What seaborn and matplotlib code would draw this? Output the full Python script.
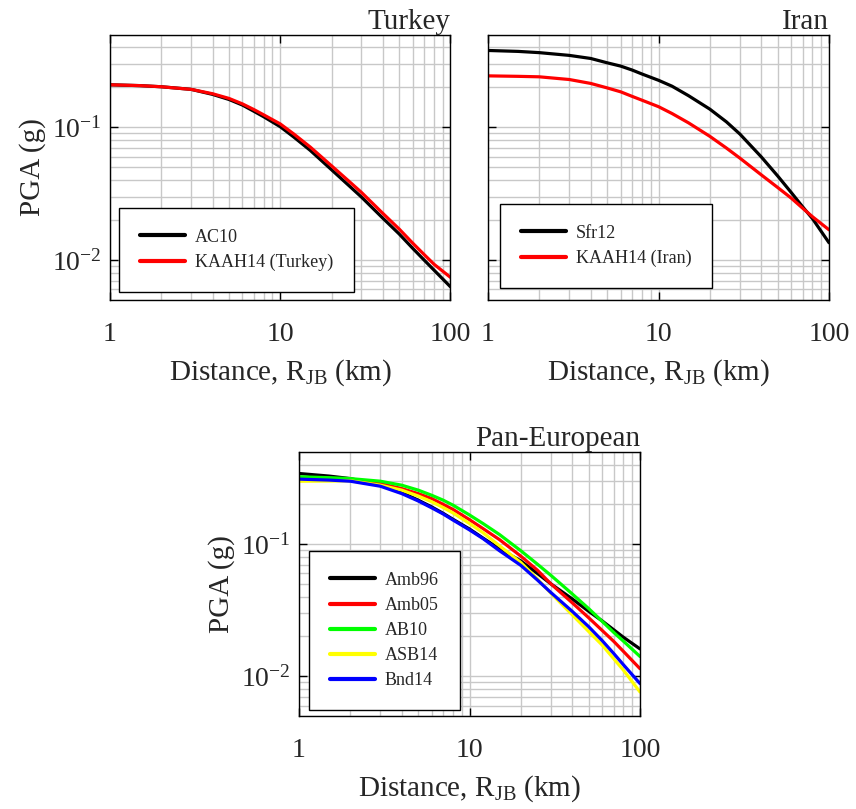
import numpy as np
import pandas as pd
import matplotlib
matplotlib.use("Agg")
import matplotlib.pyplot as plt
import seaborn as sns
from matplotlib.ticker import LogLocator, NullFormatter, FixedLocator, FixedFormatter

# ---------------- data ----------------
distance = [1, 1.5, 2, 3, 4, 5, 6, 7, 8, 10, 12, 15, 20, 25, 30, 40, 50, 60, 70, 80, 100]

# Turkey
ac10 = [0.209, 0.206, 0.202, 0.193, 0.177, 0.162, 0.147, 0.132, 0.120, 0.101, 0.0845,
        0.067, 0.0479, 0.0369, 0.0298, 0.0207, 0.0157, 0.01225, 0.0100, 0.0084, 0.00628]
kaah14_turkey = [0.209, 0.206, 0.202, 0.193, 0.179, 0.165, 0.150, 0.136, 0.124, 0.106, 0.0891,
                 0.071, 0.0513, 0.0398, 0.0323, 0.0225, 0.0171, 0.0134, 0.0110, 0.0093, 0.0074]

# Iran
sfr12 = [0.379, 0.373, 0.365, 0.348, 0.330, 0.306, 0.289, 0.270, 0.252, 0.226, 0.204,
         0.173, 0.137, 0.110, 0.089, 0.060, 0.043, 0.0323, 0.0252, 0.0205, 0.0135]
kaah14_iran = [0.244, 0.242, 0.240, 0.229, 0.214, 0.198, 0.185, 0.171, 0.160, 0.143, 0.127,
               0.108, 0.0855, 0.0698, 0.0586, 0.0439, 0.0352, 0.0293, 0.0246, 0.0212, 0.0169]

# Pan-European
amb96 = [0.342, 0.327, 0.313, 0.279, 0.246, 0.215, 0.191, 0.171, 0.154, 0.130, 0.111,
         0.092, 0.0745, 0.060, 0.050, 0.0385, 0.031, 0.0262, 0.0225, 0.0197, 0.0161]
amb05 = [0.319, 0.313, 0.308, 0.287, 0.263, 0.241, 0.221, 0.200, 0.183, 0.153, 0.131,
         0.108, 0.081, 0.0635, 0.050, 0.036, 0.0277, 0.0222, 0.0184, 0.0154, 0.0114]
ab10 = [0.323, 0.318, 0.313, 0.299, 0.279, 0.256, 0.234, 0.215, 0.197, 0.166, 0.143,
        0.118, 0.089, 0.0705, 0.058, 0.042, 0.0325, 0.026, 0.0215, 0.0184, 0.0141]
asb14 = [0.299, 0.300, 0.301, 0.279, 0.256, 0.231, 0.209, 0.189, 0.172, 0.143, 0.122,
         0.097, 0.0725, 0.0545, 0.0425, 0.0292, 0.0218, 0.0172, 0.0136, 0.0111, 0.0076]
bnd14 = [0.310, 0.305, 0.299, 0.274, 0.241, 0.212, 0.188, 0.169, 0.152, 0.128, 0.110,
         0.089, 0.069, 0.0535, 0.043, 0.031, 0.0237, 0.0186, 0.0149, 0.0122, 0.0088]

panels = [
    ("Turkey", [("AC10", ac10, "#000000"), ("KAAH14 (Turkey)", kaah14_turkey, "#ff0000")]),
    ("Iran", [("Sfr12", sfr12, "#000000"), ("KAAH14 (Iran)", kaah14_iran, "#ff0000")]),
    ("Pan-European", [("Amb96", amb96, "#000000"), ("Amb05", amb05, "#ff0000"),
                      ("AB10", ab10, "#00ff00"), ("ASB14", asb14, "#ffff00"),
                      ("Bnd14", bnd14, "#0000ff")]),
]

xtick_vals = [1, 10, 100]
xtick_labels = ["1", "10", "100"]

# ---------------- style ----------------
sns.set_style("white")
plt.rcParams["font.family"] = ["Liberation Serif", "DejaVu Serif"]
plt.rcParams["mathtext.fontset"] = "custom"
plt.rcParams["mathtext.rm"] = "Liberation Serif"
plt.rcParams["mathtext.it"] = "Liberation Serif:italic"
plt.rcParams["mathtext.bf"] = "Liberation Serif:bold"
plt.rcParams["axes.unicode_minus"] = False

W, H = 856, 809
fig = plt.figure(figsize=(W / 100, H / 100), dpi=100)

def frac(l, t, r, b):
    return [l / W, 1 - b / H, (r - l) / W, (b - t) / H]

boxes = [frac(110, 34.5, 450.5, 300), frac(488, 34.5, 829, 300), frac(299, 451.7, 640, 716)]
leg_offsets = [(9, 8), (12, 12), (10, 6)]

for i, ((title, series), box, (ox, oy)) in enumerate(zip(panels, boxes, leg_offsets)):
    ax = fig.add_axes(box)
    rows = []
    for name, vals, col in series:
        for d, v in zip(distance, vals):
            rows.append({"Distance": d, "PGA": v, "Model": name})
    df = pd.DataFrame(rows)
    palette = {name: col for name, vals, col in series}
    sns.lineplot(data=df, x="Distance", y="PGA", hue="Model", palette=palette,
                 hue_order=[s[0] for s in series], ax=ax, linewidth=2.3, legend=True)
    ax.set_xscale("log")
    ax.set_yscale("log")
    ax.set_xlim(1, 100)
    ax.set_ylim(0.005, 0.5)

    ax.grid(True, which="both", color="#c8c8c8", linewidth=1.0)
    ax.set_axisbelow(True)
    for sp in ax.spines.values():
        sp.set_color("black")
        sp.set_linewidth(1.0)
        sp.set_visible(True)

    ax.xaxis.set_major_locator(FixedLocator(xtick_vals))
    ax.xaxis.set_major_formatter(FixedFormatter(xtick_labels))
    ax.xaxis.set_minor_locator(LogLocator(base=10, subs=np.arange(2, 10)))
    ax.xaxis.set_minor_formatter(NullFormatter())
    ax.yaxis.set_major_locator(LogLocator(base=10, numticks=10))
    ax.yaxis.set_minor_locator(LogLocator(base=10, subs=np.arange(2, 10), numticks=10))
    ax.yaxis.set_minor_formatter(NullFormatter())

    ax.tick_params(which="major", direction="in", length=6, width=1.0,
                   top=True, right=True, bottom=True, left=True, labelsize=20, color="black")
    ax.tick_params(which="minor", length=0)
    ax.tick_params(axis="x", which="major", pad=16)
    ax.tick_params(axis="y", which="major", pad=6)

    ax.set_xlabel("Distance, R$_{\\mathrm{JB}}$ (km)", fontsize=21, labelpad=7)
    if i == 1:
        ax.set_ylabel("")
        ax.tick_params(axis="y", labelleft=False)
    else:
        ax.set_ylabel("PGA (g)", fontsize=21, labelpad=4)
    ax.set_title(title, loc="right", fontsize=21, pad=4)

    bw = box[2] * W
    bh = box[3] * H
    leg = ax.legend(loc="lower left", bbox_to_anchor=(ox / bw, oy / bh), borderaxespad=0,
                    fontsize=13, frameon=True, fancybox=False, edgecolor="black",
                    framealpha=1, handlelength=2.5, handletextpad=0.55, borderpad=1.15,
                    labelspacing=0.45, title=None)
    leg.get_frame().set_linewidth(1.0)
    for lh in leg.get_lines():
        lh.set_linewidth(3)

fig.savefig("out.png", dpi=100)
